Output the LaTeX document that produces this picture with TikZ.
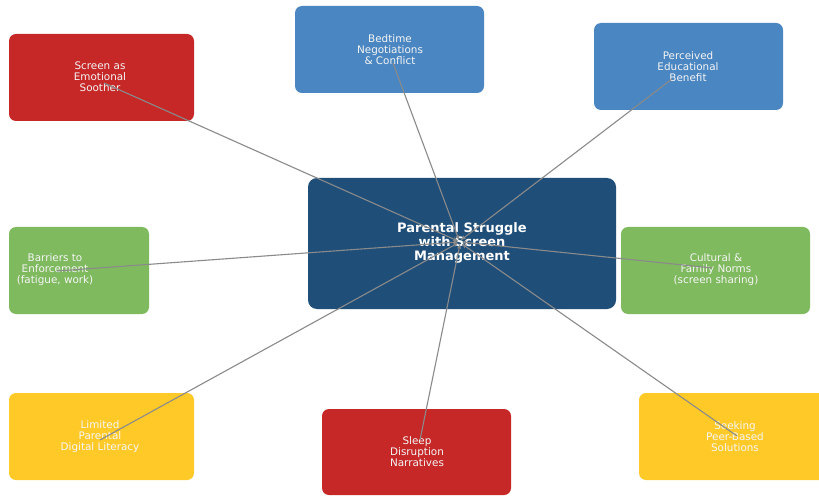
\documentclass[tikz,border=0pt]{standalone}
\usepackage{fontspec}
\setmainfont{DejaVu Sans}
\usetikzlibrary{arrows.meta}
\definecolor{cred}{HTML}{C62828}
\definecolor{cblue}{HTML}{4A86C1}
\definecolor{cgreen}{HTML}{7FBA5F}
\definecolor{cyellow}{HTML}{FFCA28}
\definecolor{cdark}{HTML}{1F4E79}
\definecolor{cline}{HTML}{8A8A8A}
\tikzset{
  box/.style={inner sep=0pt, text=white!92!gray, font=\fontsize{10.4}{11}\selectfont, align=center},
  hubbox/.style={text=white, font=\bfseries\fontsize{13}{14}\selectfont, align=center},
  link/.style={draw=cline, line width=1.1pt, -{Stealth[length=5pt,width=4pt]}}
}
\begin{document}
\begin{tikzpicture}[x=1pt,y=-1pt]
\useasboundingbox (0,0) rectangle (819,497);
\clip (0,0) rectangle (819,497);
\fill[white] (0,0) rectangle (819,497);
% center
\fill[cdark, rounded corners=9pt] (308,178) rectangle (616,309);
\node[hubbox] (hub) at (462,243) {Parental Struggle\\with Screen\\Management};
% boxes
\fill[cred, rounded corners=7pt] (9,34) rectangle (194,121);
\node[box] (soother) at (100,77) {Screen as\\Emotional\\Soother};
\fill[cblue, rounded corners=7pt] (295,6) rectangle (484,93);
\node[box] (bedtime) at (390,50) {Bedtime\\Negotiations\\\& Conflict};
\fill[cblue, rounded corners=7pt] (594,23) rectangle (783,110);
\node[box] (edu) at (688,67) {Perceived\\Educational\\Benefit};
\fill[cgreen, rounded corners=7pt] (9,227) rectangle (149,314);
\node[box] (barriers) at (55,270) {Barriers to\\Enforcement\\(fatigue, work)};
\fill[cgreen, rounded corners=7pt] (621,227) rectangle (810,314);
\node[box] (cultural) at (716,270) {Cultural \&\\Family Norms\\(screen sharing)};
\fill[cyellow, rounded corners=7pt] (9,393) rectangle (194,480);
\node[box] (literacy) at (100,437) {Limited\\Parental\\Digital Literacy};
\fill[cred, rounded corners=7pt] (322,409) rectangle (511,495);
\node[box] (sleep) at (417,452) {Sleep\\Disruption\\Narratives};
\fill[cyellow, rounded corners=7pt] (639,393) rectangle (830,480);
\node[box] (peer) at (735,437) {Seeking\\Peer-Based\\Solutions};
% link start points
\coordinate (hubc) at (460,242);
\coordinate (s1) at (104,83);
\coordinate (s2) at (393,63);
\coordinate (s3) at (672,79);
\coordinate (s4) at (57,271);
\coordinate (s5) at (712,268);
\coordinate (s6) at (100,440);
\coordinate (s7) at (420,440);
\coordinate (s8) at (737,436);
\foreach \s/\dx/\dy in {s1/-2/-1, s2/-1/-2, s3/1/-2, s4/-2/0, s5/2/0, s6/-2/1, s7/0/2, s8/2/2}
  \draw[link] (\s) -- ([shift={(\dx,\dy)}]hubc);
\end{tikzpicture}
\end{document}
